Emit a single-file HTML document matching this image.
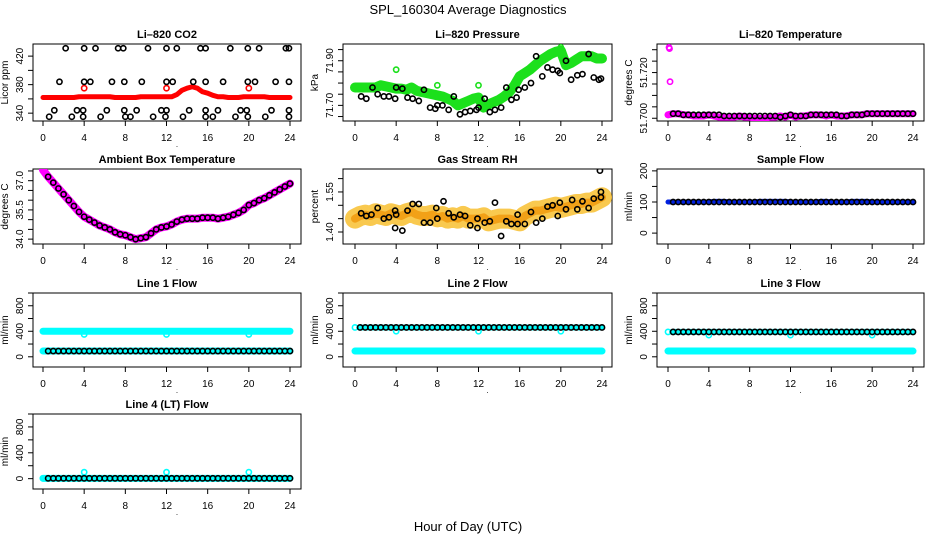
<!DOCTYPE html>
<html><head><meta charset="utf-8"><style>
body{margin:0;background:#fff;}
svg{display:block;font-family:"Liberation Sans",sans-serif;}
</style></head><body>
<svg id="c" width="936" height="540" xmlns="http://www.w3.org/2000/svg">
<text x="468" y="14" text-anchor="middle" font-size="13">SPL_160304  Average Diagnostics</text>
<text x="468" y="531" text-anchor="middle" font-size="13">Hour of Day (UTC)</text>
</svg>
<script>
// ---- data ----
const xTicks=[0,4,8,12,16,20,24];
const halfHours=[0,0.5,1,1.5,2,2.5,3,3.5,4,4.5,5,5.5,6,6.5,7,7.5,8,8.5,9,9.5,10,10.5,11,11.5,12,12.5,13,13.5,14,14.5,15,15.5,16,16.5,17,17.5,18,18.5,19,19.5,20,20.5,21,21.5,22,22.5,23,23.5,24];
const co2Red=[362,362,362,362,362,362,362,363,363,363,363,363,363,363,362,362,362,362,362,363,363,363,363,363,363,363,366,372,375,377,375,370,368,365,363,363,362,362,362,363,363,363,363,363,362,362,362,362,362];
const co2RedOut=[[4,375],[12,375],[20,375]];
const co2Black=[[2.2,431],[4,431],[5.1,431],[7.3,431],[7.8,431],[10.2,431],[12,431],[13,431],[15.3,431],[15.8,431],[18.2,431],[19.9,431],[21,431],[23.6,431],[23.9,431],
[1.6,384],[4,384],[4.6,384],[6.7,384],[7.9,384],[9.6,384],[12,384],[12.6,384],[14.6,384],[15.8,384],[17.5,384],[19.9,384],[20.6,384],[22.6,384],[23.9,384],
[1.1,344],[3.3,344],[3.9,344],[6.2,344],[7.9,344],[9.1,344],[11.5,344],[12,344],[14.2,344],[15.8,344],[17,344],[19.2,344],[19.8,344],[22.2,344],[23.9,344],
[0.6,335],[2.8,335],[3.9,335],[5.6,335],[8,335],[8.5,335],[10.7,335],[11.9,335],[13.6,335],[15.8,335],[16.5,335],[18.7,335],[19.9,335],[21.6,335],[23.9,335]];
const presGreen=[71.78,71.78,71.78,71.78,71.78,71.79,71.785,71.78,71.775,71.775,71.77,71.78,71.765,71.76,71.755,71.75,71.745,71.74,71.73,71.72,71.70,71.71,71.72,71.73,71.735,71.69,71.705,71.715,71.725,71.74,71.76,71.79,71.83,71.845,71.86,71.88,71.90,71.915,71.93,71.94,71.945,71.88,71.89,71.905,71.92,71.92,71.92,71.91,71.91];
const presBlack=[[0.6,71.74],[1.1,71.73],[1.7,71.78],[2.2,71.75],[2.8,71.74],[3.3,71.74],[3.9,71.73],[4,71.78],[4.6,71.775],[5.1,71.735],[5.6,71.73],[6.2,71.72],[6.7,71.77],[7.3,71.69],[7.8,71.685],[8,71.70],[8.5,71.70],[9.1,71.68],[9.6,71.74],[10.2,71.66],[10.7,71.67],[11.2,71.675],[11.8,71.68],[12,71.69],[12.6,71.73],[13.1,71.67],[13.6,71.68],[14.2,71.69],[14.7,71.78],[15.2,71.725],[15.7,71.735],[15.9,71.77],[16.5,71.78],[17.1,71.80],[17.6,71.92],[18.2,71.83],[18.7,71.87],[19.2,71.86],[19.7,71.855],[19.9,71.845],[20.5,71.90],[21,71.815],[21.6,71.835],[22.1,71.84],[22.7,71.93],[23.2,71.825],[23.7,71.815],[23.9,71.82]];
const tempMag=[51.7015,51.702,51.702,51.7015,51.7015,51.701,51.701,51.701,51.7015,51.701,51.7005,51.7005,51.7005,51.7005,51.701,51.7005,51.7005,51.7,51.7,51.7,51.7005,51.7005,51.701,51.7005,51.7015,51.7005,51.701,51.701,51.7015,51.7015,51.7015,51.701,51.7015,51.701,51.701,51.701,51.7015,51.7015,51.7015,51.702,51.702,51.702,51.702,51.702,51.702,51.702,51.702,51.702,51.702];
const tempMagOut=[[0.1,51.731],[0.15,51.7305],[0.2,51.716]];
const tempBlack=[51.702,51.702,51.702,51.7015,51.7015,51.7015,51.7015,51.7015,51.7015,51.7015,51.7015,51.701,51.701,51.701,51.701,51.701,51.701,51.701,51.701,51.701,51.701,51.701,51.7005,51.701,51.7015,51.701,51.701,51.701,51.7015,51.7015,51.7015,51.7015,51.7015,51.7015,51.701,51.701,51.7015,51.7015,51.7015,51.702,51.702,51.702,51.702,51.702,51.702,51.702,51.702,51.702,51.702];
const ambient=[37.55,37.2,36.9,36.6,36.3,36.0,35.7,35.4,35.15,35.0,34.85,34.7,34.6,34.5,34.35,34.25,34.2,34.1,34.0,34.05,34.1,34.3,34.5,34.6,34.65,34.75,34.9,35.0,35.05,35.05,35.05,35.1,35.1,35.1,35.05,35.1,35.15,35.25,35.35,35.5,35.75,35.85,36.0,36.1,36.25,36.4,36.55,36.7,36.85];
const rhOrange=[1.45,1.46,1.465,1.46,1.47,1.465,1.46,1.47,1.465,1.46,1.47,1.475,1.465,1.46,1.46,1.465,1.455,1.46,1.45,1.455,1.45,1.46,1.45,1.45,1.45,1.455,1.44,1.445,1.45,1.45,1.45,1.445,1.44,1.46,1.47,1.48,1.48,1.485,1.49,1.495,1.49,1.495,1.5,1.505,1.505,1.51,1.51,1.52,1.53];
const rhBlack=[[0.6,1.47],[1.1,1.46],[1.6,1.465],[2.2,1.49],[2.8,1.45],[3.3,1.455],[3.9,1.415],[3.9,1.48],[4,1.465],[4.6,1.405],[5.1,1.48],[5.6,1.505],[6.2,1.505],[6.7,1.435],[7.3,1.435],[7.9,1.49],[8,1.45],[8.6,1.515],[9.1,1.47],[9.6,1.455],[10.2,1.465],[10.7,1.46],[11.2,1.425],[11.9,1.415],[11.9,1.45],[12.6,1.435],[13.1,1.44],[13.6,1.51],[14.2,1.385],[14.7,1.44],[15.2,1.43],[15.8,1.43],[15.8,1.465],[16.5,1.43],[17.1,1.475],[17.6,1.435],[18.2,1.45],[18.7,1.495],[19.2,1.5],[19.7,1.46],[19.9,1.51],[20.5,1.485],[21.1,1.52],[21.6,1.485],[22.1,1.515],[22.7,1.49],[23.2,1.525],[23.8,1.63],[23.9,1.55],[23.9,1.53]];
const sampleBlue=[100,100,100,100,100,100,100,100,100,102,102,102,100,100,100,100,100,100,102,102,102,102,102,102,100,100,100,100,100,100,102,102,100,100,100,100,102,102,102,102,100,100,100,100,100,100,100,100,100];
const sampleBlack=100;
const line1Cyan=[400,90];
const line1Black=90;
const line1Dips=[[4,350],[12,350],[20,350]];
const line2Cyan=[90];
const line2Black=460;
const line2Dips=[[0,460],[4,400],[12,400],[20,400]];
const line3Cyan=[90];
const line3Black=390;
const line3Dips=[[0,390],[4,340],[12,340],[20,340]];
const line4Cyan=[5];
const line4Black=5;
const line4Dips=[[0,5],[4,100],[12,100],[20,100]];

// ---- layout ----
const cols=[[33,301,43,290],[343,612,355,602],[657,924,668,913]];
const rows=[[44,121],[169,244],[293,367],[414,489]];
const svg=document.getElementById('c');
const NS='http://www.w3.org/2000/svg';
function mk(tag,attrs,parent){const e=document.createElementNS(NS,tag);for(const k in attrs)e.setAttribute(k,attrs[k]);(parent||svg).appendChild(e);return e;}

function panel(name,title,ytitle,ci,ri,ymin,ymax,yticks,ylabels){
  const [bx0,bx1,tx0,tx1]=cols[ci];const [by0,by1]=rows[ri];
  const g=mk('g',{});
  
  
  const xs=t=>tx0+(tx1-tx0)*t/24;
  const ys=v=>by1-(by1-by0)*(v-ymin)/(ymax-ymin);
  const r=mk('rect',{x:bx0,y:by0,width:bx1-bx0,height:by1-by0,fill:'none',stroke:'#000','stroke-width':1},g);
  
  
  const t=mk('text',{x:(bx0+bx1)/2,y:by0-6,'text-anchor':'middle','font-size':11,'font-weight':'bold'},g);
  t.textContent=title;
  
  
  xTicks.forEach(v=>{
    mk('line',{x1:xs(v),x2:xs(v),y1:by1,y2:by1+5,stroke:'#000'},g);
    const l=mk('text',{x:xs(v),y:by1+20,'text-anchor':'middle','font-size':10},g);
    l.textContent=v;
    
    
  });
  const dot=mk('text',{x:(bx0+bx1)/2+10,y:by1+26,'text-anchor':'middle','font-size':8},g);dot.textContent='.';
  yticks.forEach(v=>{
    mk('line',{x1:bx0-5,x2:bx0,y1:ys(v),y2:ys(v),stroke:'#000'},g);
  });
  ylabels.forEach(v=>{
    const x=bx0-10,y=ys(v[0]);
    const l=mk('text',{x:x,y:y,'text-anchor':'middle','font-size':10,transform:`rotate(-90 ${x} ${y})`},g);
    l.textContent=v[1];
    
    
  });
  const yx=bx0-25,yy=(by0+by1)/2;
  const yt=mk('text',{x:yx,y:yy,'text-anchor':'middle','font-size':10,transform:`rotate(-90 ${yx} ${yy})`},g);
  yt.textContent=ytitle;
  
  
  const cp='cp'+name;
  const clip=mk('clipPath',{id:cp},g);mk('rect',{x:bx0,y:by0,width:bx1-bx0,height:by1-by0},clip);
  const pg=mk('g',{'clip-path':`url(#${cp})`},g);
  return {xs,ys,g:pg};
}
function band(P,vals,color,w,name,op){
  const pts=halfHours.map((t,i)=>P.xs(t)+','+P.ys(vals[i])).join(' ');
  const e=mk('polyline',{points:pts,fill:'none',stroke:color,'stroke-width':w,'stroke-linejoin':'round','stroke-linecap':'round','stroke-opacity':op||1},P.g);
  
  
}
function flat(P,v,color,w,name,t0){
  const e=mk('line',{x1:P.xs(t0||0),x2:P.xs(24),y1:P.ys(v),y2:P.ys(v),stroke:color,'stroke-width':w,'stroke-linecap':'round'},P.g);
  
  
}
function pts(P,arr,color,name){
  arr.forEach(p=>{
    const c=mk('circle',{cx:P.xs(p[0]),cy:P.ys(p[1]),r:2.6,fill:'none',stroke:color,'stroke-width':1.6},P.g);
    
    
  });
}
function hourly(P,v,color,name){
  const arr=[];for(let i=1;i<halfHours.length;i++)arr.push([halfHours[i],Array.isArray(v)?v[i]:v]);
  pts(P,arr,color,name);
}
const flowTicks=[0,200,400,600,800,1000],flowLabels=[[0,'0'],[400,'400'],[800,'800']];

// CO2
let P=panel('co2','Li\u2013820 CO2','Licor ppm',0,0,329,437,[340,360,380,400,420],[[340,'340'],[380,'380'],[420,'420']]);
band(P,co2Red,'#f00',5,'co2-red-series');pts(P,co2RedOut,'#f00','co2-red-point');pts(P,co2Black,'#000','co2-black-point');
// Pressure
P=panel('pressure','Li\u2013820 Pressure','kPa',1,0,71.63,71.975,[71.65,71.70,71.75,71.80,71.85,71.90,71.95],[[71.70,'71.70'],[71.90,'71.90']]);
band(P,presGreen,'#1ce01c',10,'pressure-green-series');pts(P,[[4,71.86],[8,71.79],[12,71.79],[20,71.96]],'#1ce01c','pressure-green-point');pts(P,presBlack,'#000','pressure-black-point');
// Li temp
P=panel('li-temp','Li\u2013820 Temperature','degrees C',2,0,51.6988,51.7325,[51.700,51.705,51.710,51.715,51.720,51.725,51.730],[[51.700,'51.700'],[51.720,'51.720']]);
band(P,tempMag,'#f0f',7,'li-temp-magenta-series');pts(P,tempMagOut,'#f0f','li-temp-magenta-point');hourly(P,tempBlack,'#000','li-temp-black-point');
// Ambient
P=panel('ambient','Ambient Box Temperature','degrees C',0,1,33.75,37.6,[34,34.5,35,35.5,36,36.5,37,37.5],[[34,'34.0'],[35.5,'35.5'],[37,'37.0']]);
band(P,ambient,'#f0f',8,'ambient-magenta-series');hourly(P,ambient,'#000','ambient-black-point');
// RH
P=panel('rh','Gas Stream RH','percent',1,1,1.355,1.636,[1.40,1.45,1.50,1.55,1.60],[[1.40,'1.40'],[1.55,'1.55']]);
band(P,rhOrange,'#f8c030',20,'rh-orange-series',0.85);band(P,rhOrange,'#f09000',8,'rh-orange-core',0.7);pts(P,rhBlack,'#000','rh-black-point');
// Sample flow
P=panel('sample-flow','Sample Flow','ml/min',2,1,-35,206,[0,50,100,150,200],[[0,'0'],[100,'100'],[200,'200']]);
band(P,sampleBlue,'#0020e0',5,'sample-flow-blue-series');hourly(P,sampleBlack,'#000','sample-flow-black-point');
// Line 1
P=panel('line1','Line 1 Flow','ml/min',0,2,-160,1000,flowTicks,flowLabels);
line1Cyan.forEach(v=>flat(P,v,'#0ff',7,'line1-cyan-series'));pts(P,line1Dips,'#0ff','line1-cyan-point');hourly(P,line1Black,'#000','line1-black-point');
// Line 2
P=panel('line2','Line 2 Flow','ml/min',1,2,-160,1000,flowTicks,flowLabels);
line2Cyan.forEach(v=>flat(P,v,'#0ff',7,'line2-cyan-series'));pts(P,line2Dips,'#0ff','line2-cyan-point');flat(P,line2Black,'#0ff',6,'line2-cyan-upper',0.4);hourly(P,line2Black,'#000','line2-black-point');
// Line 3
P=panel('line3','Line 3 Flow','ml/min',2,2,-160,1000,flowTicks,flowLabels);
line3Cyan.forEach(v=>flat(P,v,'#0ff',7,'line3-cyan-series'));pts(P,line3Dips,'#0ff','line3-cyan-point');flat(P,line3Black,'#0ff',6,'line3-cyan-upper',0.4);hourly(P,line3Black,'#000','line3-black-point');
// Line 4
P=panel('line4','Line 4 (LT) Flow','ml/min',0,3,-160,1000,flowTicks,flowLabels);
line4Cyan.forEach(v=>flat(P,v,'#0ff',7,'line4-cyan-series'));pts(P,line4Dips,'#0ff','line4-cyan-point');hourly(P,line4Black,'#000','line4-black-point');
</script>
</body></html>
